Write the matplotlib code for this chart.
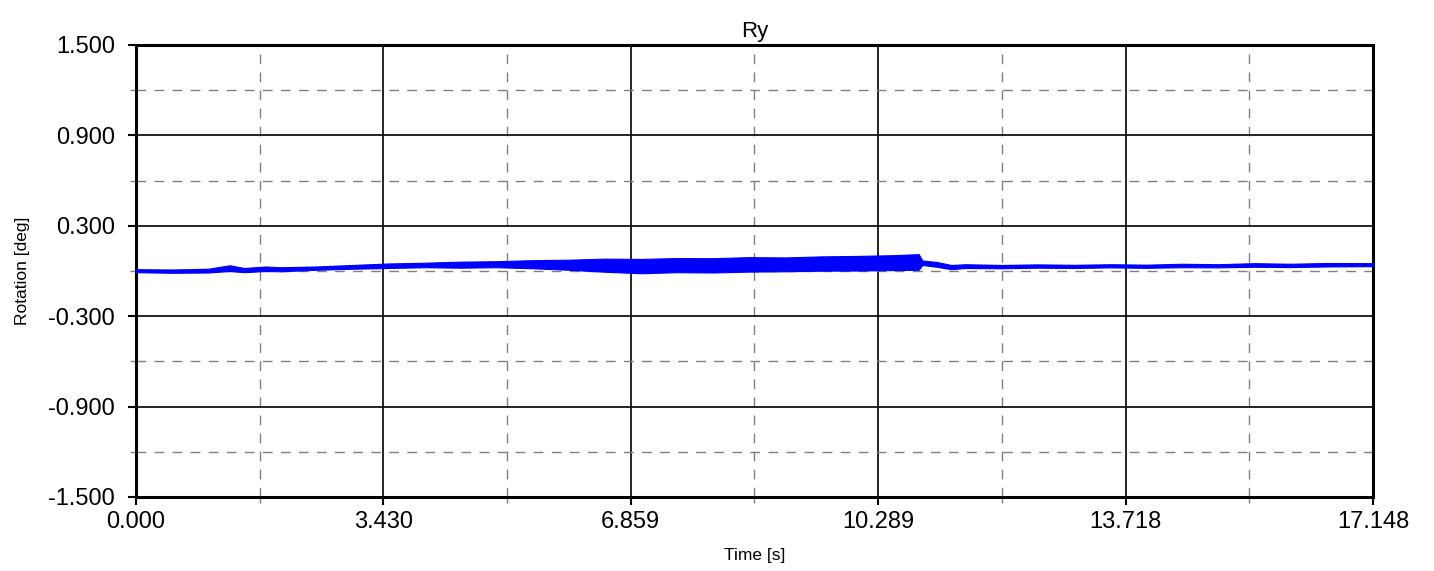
import matplotlib
matplotlib.use("Agg")
import matplotlib.pyplot as plt
import numpy as np

plt.rcParams['font.family'] = ['Liberation Sans', 'DejaVu Sans']

# envelope of the Ry signal (time in s, rotation in deg)
t_env = [0.0, 0.5, 1.0, 1.3, 1.5, 1.8, 2.0, 2.5, 3.0, 3.5, 4.0, 4.5, 5.0,
         5.5, 6.0, 6.5, 7.0, 7.5, 8.0, 8.5, 9.0, 9.5, 10.0, 10.5, 10.85,
         10.9, 11.1, 11.3, 11.5, 12.0, 12.5, 13.0, 13.5, 14.0, 14.5, 15.0,
         15.5, 16.0, 16.5, 17.148]
ry_lo = [-0.008, -0.012, -0.010, 0.000, -0.008, 0.000, -0.002, 0.008,
         0.015, 0.020, 0.025, 0.022, 0.025, 0.018, 0.008, -0.005, -0.015,
         -0.008, -0.010, -0.004, -0.002, 0.002, 0.003, 0.006, 0.008, 0.040,
         0.028, 0.012, 0.020, 0.018, 0.022, 0.020, 0.024, 0.021, 0.025,
         0.024, 0.028, 0.026, 0.030, 0.032]
ry_hi = [0.012, 0.010, 0.015, 0.038, 0.020, 0.030, 0.025, 0.030, 0.040,
         0.050, 0.055, 0.062, 0.065, 0.072, 0.075, 0.082, 0.080, 0.086,
         0.085, 0.092, 0.090, 0.097, 0.100, 0.105, 0.112, 0.070, 0.060,
         0.040, 0.045, 0.040, 0.044, 0.041, 0.045, 0.042, 0.048, 0.045,
         0.052, 0.048, 0.053, 0.052]

x_ticks = [0.000, 3.430, 6.859, 10.289, 13.718, 17.148]
y_ticks = [-1.5, -0.9, -0.3, 0.3, 0.9, 1.5]

fig = plt.figure(figsize=(14.34, 5.71), dpi=100)
ax = fig.add_axes([0.0948, 0.1296, 0.8627, 0.7916])

t = np.array(t_env)
lo = np.array(ry_lo)
hi = np.array(ry_hi)
ax.fill_between(t, lo, hi, color='#0000ff', linewidth=0.8, edgecolor='#0000ff', zorder=3)
ax.plot(t, (lo + hi) / 2, color='#0000ff', linewidth=1.2, zorder=3)

ax.set_xlim(x_ticks[0], x_ticks[-1])
ax.set_ylim(-1.5, 1.5)
ax.set_xticks(x_ticks)
ax.set_xticklabels([f"{v:.3f}" for v in x_ticks])
ax.set_yticks(y_ticks)
ax.set_yticklabels([f"{v:.3f}" for v in y_ticks])
ax.set_xticks([(x_ticks[i] + x_ticks[i + 1]) / 2 for i in range(len(x_ticks) - 1)], minor=True)
ax.set_yticks([(y_ticks[i] + y_ticks[i + 1]) / 2 for i in range(len(y_ticks) - 1)], minor=True)

ax.grid(True, which='major', color='black', linewidth=1.2, linestyle='-')
ax.grid(True, which='minor', color='#808080', linewidth=1, linestyle=(0, (7, 6)))
ax.set_axisbelow(True)

ax.tick_params(which='major', direction='out', length=6, width=1.5, labelsize=17)
ax.tick_params(axis='y', which='major', pad=9)
ax.tick_params(axis='x', which='major', pad=4)
ax.tick_params(which='minor', direction='out', length=4, width=1, color='#808080')
for s in ax.spines.values():
    s.set_linewidth(2.2)
    s.set_color('black')

ax.set_title('Ry', fontsize=16, pad=6)
ax.set_xlabel('Time [s]', fontsize=12.5, labelpad=11)
ax.set_ylabel('Rotation [deg]', fontsize=12.5, labelpad=13)

fig.savefig('out.png', dpi=100)
